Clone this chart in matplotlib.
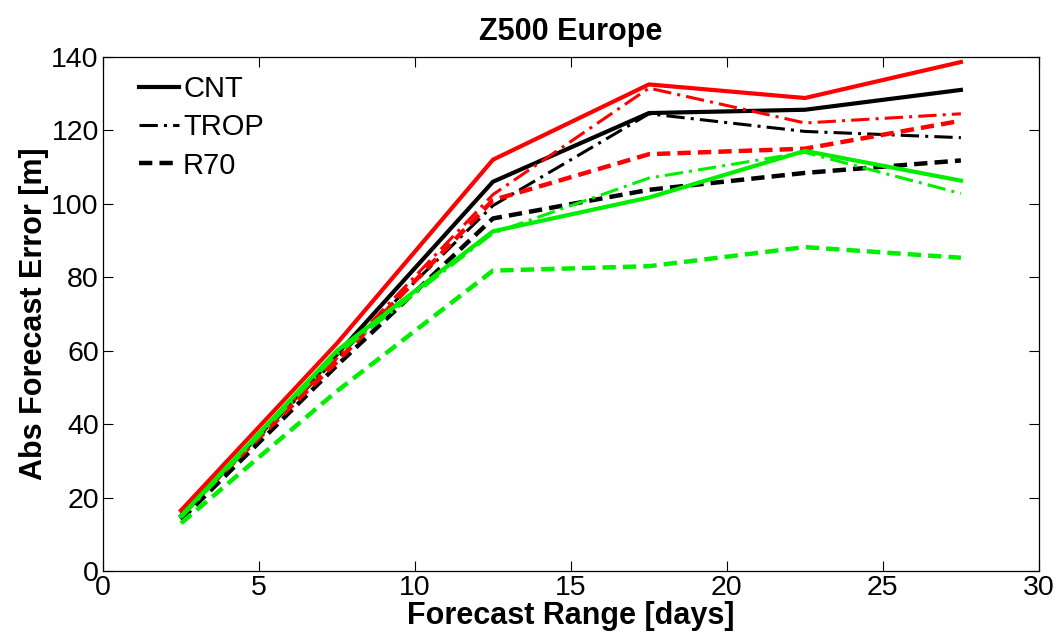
import matplotlib
matplotlib.use("Agg")
import matplotlib.pyplot as plt

plt.rcParams['font.family'] = ['Liberation Sans', 'DejaVu Sans']

x = [2.5, 7.5, 12.5, 17.5, 22.5, 27.5]

black_cnt = [15, 59, 106, 124.7, 125.6, 131]
black_trop = [15, 58, 99.5, 124.5, 119.7, 118]
black_r70 = [14, 56, 96, 103.8, 108.4, 111.8]

red_cnt = [16.5, 62, 112, 132.5, 128.8, 138.6]
red_trop = [16, 58, 102.5, 131.5, 122, 124.5]
red_r70 = [15.5, 57, 101, 113.5, 115, 122.6]

green_cnt = [15, 60, 92.5, 101.7, 114.4, 106.3]
green_trop = [14.5, 59, 92, 107, 114, 102.8]
green_r70 = [13, 49, 81.8, 83, 88.2, 85.3]

legend_labels = ["CNT", "TROP", "R70"]
xticks = [0, 5, 10, 15, 20, 25, 30]
yticks = [0, 20, 40, 60, 80, 100, 120, 140]

fig = plt.figure(figsize=(10.59, 6.39), dpi=100)
ax = fig.add_axes([0.0973, 0.1064, 0.8837, 0.8046])

red = "#ff0000"
green = "#00ee00"
black = "#000000"
lw_s = 3.0
lw_dd = 2.2
lw_d = 3.2
dashdot = (0, (6, 2, 1, 2))
dashed = (0, (3, 1.6))

ax.plot(x, black_cnt, color=black, lw=lw_s, ls="-", label=legend_labels[0])
ax.plot(x, black_trop, color=black, lw=lw_dd, ls=dashdot, label=legend_labels[1])
ax.plot(x, black_r70, color=black, lw=lw_d, ls=dashed, label=legend_labels[2])

ax.plot(x, red_cnt, color=red, lw=lw_s, ls="-")
ax.plot(x, red_trop, color=red, lw=lw_dd, ls=dashdot)
ax.plot(x, red_r70, color=red, lw=lw_d, ls=dashed)

ax.plot(x, green_cnt, color=green, lw=lw_s, ls="-")
ax.plot(x, green_trop, color=green, lw=lw_dd, ls=dashdot)
ax.plot(x, green_r70, color=green, lw=lw_d, ls=dashed)

ax.set_xlim(0, 30)
ax.set_ylim(0, 140)
ax.set_xticks(xticks)
ax.set_yticks(yticks)
ax.tick_params(direction="in", length=7, width=0.8, labelsize=20.5,
               top=True, right=True, pad=3)
for s in ax.spines.values():
    s.set_linewidth(0.9)

ax.set_xlabel("Forecast Range [days]", fontsize=22, fontweight="bold", labelpad=0)
ax.set_ylabel("Abs Forecast Error [m]", fontsize=22, fontweight="bold", labelpad=2)
ax.set_title("Z500 Europe", fontsize=22, fontweight="bold", pad=12)

leg = ax.legend(loc="upper left", frameon=False, fontsize=21, handlelength=1.35,
                handletextpad=0.15, labelspacing=0.35, borderaxespad=0.3,
                bbox_to_anchor=(0.017, 1.004))

fig.savefig("out.png", dpi=100)
